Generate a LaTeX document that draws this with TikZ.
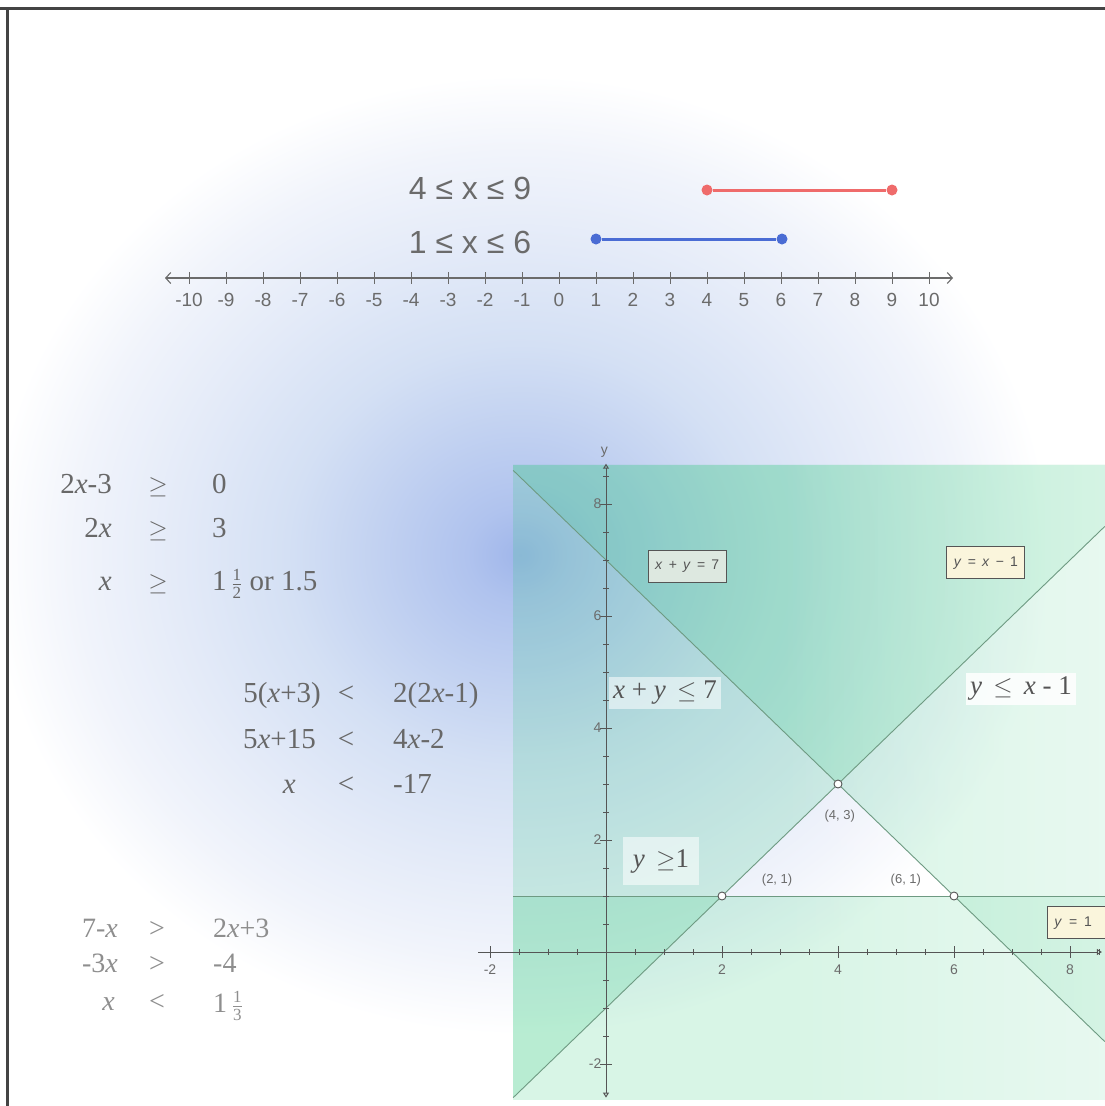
\documentclass[tikz,border=0pt]{standalone}
\usepackage{fontspec}
\setmainfont{Liberation Serif}
\setsansfont{Liberation Sans}
\usetikzlibrary{arrows.meta,fadings}

\definecolor{glowA}{HTML}{A0B6EA}
\definecolor{glowB}{HTML}{B0C3EE}
\definecolor{glowC}{HTML}{D4E0F4}
\definecolor{glowD}{HTML}{E3EAF8}
\definecolor{glowE}{HTML}{F1F4FB}
\definecolor{numgray}{HTML}{6B6B6B}
\definecolor{eqgray}{HTML}{686868}
\definecolor{eqlight}{HTML}{8E8E8E}
\definecolor{axisgray}{HTML}{555555}
\definecolor{segred}{HTML}{EF6B6B}
\definecolor{segblue}{HTML}{4A6CD4}
\definecolor{clinecol}{HTML}{6E9A82}
\definecolor{layergreen}{HTML}{28C878}
\definecolor{boxgreen}{HTML}{DDE8E0}
\definecolor{boxcream}{HTML}{FAF5DC}
\definecolor{framegray}{HTML}{444444}

% radial shading: 25bp corresponds to the edge of the shaded ellipse
\pgfdeclareradialshading{glow}{\pgfpoint{0bp}{0bp}}{color(0bp)=(glowA); color(2.5bp)=(glowB); color(11bp)=(glowC); color(16bp)=(glowD); color(21bp)=(glowE); color(25bp)=(white); color(50bp)=(white)}

\newcommand\myfrac[2]{$\frac{\mbox{\fontsize{17}{17}\selectfont #1}}{\mbox{\fontsize{17}{17}\selectfont #2}}$}

\begin{document}
\begin{tikzpicture}[x=1pt,y=-1pt,
  nline/.style={draw=numgray, line width=1.1pt},
  ntick/.style={draw=numgray, line width=1pt},
  nlab/.style={font=\sffamily\fontsize{19}{19}\selectfont, text=numgray, inner sep=0pt},
  biglab/.style={font=\sffamily\fontsize{32}{32}\selectfont, text=numgray, inner sep=0pt},
  reddot/.style={circle, fill=segred, inner sep=0pt, minimum size=11pt},
  bluedot/.style={circle, fill=segblue, inner sep=0pt, minimum size=11pt},
  eqL/.style={anchor=base east, inner sep=0pt, font=\fontsize{29}{29}\selectfont, text=eqgray},
  eqM/.style={anchor=base, inner sep=0pt, font=\fontsize{29}{29}\selectfont, text=eqgray},
  eqR/.style={anchor=base west, inner sep=0pt, font=\fontsize{29}{29}\selectfont, text=eqgray},
  eqLL/.style={eqL, text=eqlight, font=\fontsize{28}{28}\selectfont},
  eqML/.style={eqM, text=eqlight, font=\fontsize{28}{28}\selectfont},
  eqRL/.style={eqR, text=eqlight, font=\fontsize{28}{28}\selectfont},
  lg/.style={fill=layergreen, fill opacity=0.18},
  cline/.style={draw=clinecol, line width=0.9pt},
  axis/.style={draw=axisgray, line width=1pt},
  tlab/.style={font=\sffamily\fontsize{14}{14}\selectfont, text=numgray, inner sep=1pt},
  plab/.style={font=\sffamily\fontsize{13}{13}\selectfont, text=numgray, inner sep=0pt},
  opt/.style={circle, draw=axisgray, fill=white, line width=0.9pt, inner sep=0pt, minimum size=8pt},
  eqbox/.style={draw=axisgray, line width=1pt, font=\sffamily\fontsize{14}{14}\selectfont, text=axisgray, inner xsep=7pt, minimum height=32pt},
  slab/.style={fill=white, fill opacity=0.55, text opacity=1, text=axisgray, font=\fontsize{27}{27}\selectfont, inner sep=4pt}
]
\useasboundingbox (0,0) rectangle (1105,1106);
\fill[white] (0,0) rectangle (1105,1106);
\path[shading=glow] (520,555) ellipse [x radius=530pt, y radius=480pt];

% ---------- number line ----------
\coordinate (nlL) at (165,278);
\coordinate (nlR) at (953,278);
\draw[nline, {Straight Barb[length=5pt,width=11pt]}-{Straight Barb[length=5pt,width=11pt]}] (nlL) -- (nlR);
\foreach \i in {-10,...,10} {
  \draw[ntick] ({559+37*\i},272) -- ({559+37*\i},284);
  \node[nlab] (n\i) at ({559+37*\i},300) {\i};
}
\node[biglab] (ineqA) at (470,188) {4 ≤ x ≤ 9};
\node[biglab] (ineqB) at (470,242) {1 ≤ x ≤ 6};
\node[reddot] (r4) at (707,190) {};
\node[reddot] (r9) at (892,190) {};
\node[bluedot] (b1) at (596,239) {};
\node[bluedot] (b6) at (782,239) {};
\draw[segred, line width=3pt] (r4) -- (r9);
\draw[segblue, line width=3pt] (b1) -- (b6);

% ---------- equations block 1 ----------
\node[eqL] (e1l1) at (112,493) {2\textit{x}-3};
\node[eqM] (e1m1) at (158,493) {$\geq$};
\node[eqR] (e1r1) at (212,493) {0};
\node[eqL] (e1l2) at (112,537) {2\textit{x}};
\node[eqM] (e1m2) at (158,537) {$\geq$};
\node[eqR] (e1r2) at (212,537) {3};
\node[eqL] (e1l3) at (112,590) {\textit{x}};
\node[eqM] (e1m3) at (158,590) {$\geq$};
\node[eqR] (e1r3) at (212,590) {1\,\myfrac{1}{2} or 1.5};

% ---------- equations block 2 ----------
\node[eqL] (e2l1) at (321,702) {5(\textit{x}+3)};
\node[eqM] (e2m1) at (346,702) {<};
\node[eqR] (e2r1) at (393,702) {2(2\textit{x}-1)};
\node[eqL] (e2l2) at (316,748) {5\textit{x}+15};
\node[eqM] (e2m2) at (346,748) {<};
\node[eqR] (e2r2) at (393,748) {4\textit{x}-2};
\node[eqL] (e2l3) at (296,793) {\textit{x}};
\node[eqM] (e2m3) at (346,793) {<};
\node[eqR] (e2r3) at (393,793) {-17};

% ---------- equations block 3 ----------
\node[eqLL] (e3l1) at (118,937) {7-\textit{x}};
\node[eqML] (e3m1) at (157,937) {>};
\node[eqRL] (e3r1) at (213,937) {2\textit{x}+3};
\node[eqLL] (e3l2) at (118,972) {-3\textit{x}};
\node[eqML] (e3m2) at (157,972) {>};
\node[eqRL] (e3r2) at (213,972) {-4};
\node[eqLL] (e3l3) at (115,1010) {\textit{x}};
\node[eqML] (e3m3) at (157,1010) {<};
\node[eqRL] (e3r3) at (213,1012) {1\,\myfrac{1}{3}};

% ---------- graph ----------
\begin{scope}[shift={(606,952)}, x=58pt, y=56pt]
  \begin{scope}
    \clip (-1.6,-2.65) rectangle (8.6,8.7);
    \fill[lg] (-1.6,8.6) -- (8.6,-1.6) -- (8.6,8.7) -- (-1.6,8.7) -- cycle;
    \fill[lg] (-1.6,-2.6) -- (8.6,7.6) -- (8.6,8.7) -- (-1.6,8.7) -- cycle;
    \fill[lg] (-1.6,-2.65) rectangle (8.6,1);
    \fill[white, fill opacity=0.45, path fading=west] (3,-2.65) rectangle (9.2,8.7);
  \end{scope}
  % constraint lines
  \coordinate (a1) at (-1.6,8.6);  \coordinate (a2) at (8.6,-1.6);
  \coordinate (b1) at (-1.6,-2.6); \coordinate (b2) at (8.6,7.6);
  \coordinate (c1) at (-1.6,1);    \coordinate (c2) at (8.6,1);
  \draw[cline] (a1) -- (a2);
  \draw[cline] (b1) -- (b2);
  \draw[cline] (c1) -- (c2);
  % axes
  \coordinate (xl) at (-2.2,0); \coordinate (xr) at (8.55,0);
  \coordinate (yb) at (0,-2.6); \coordinate (yt) at (0,8.72);
  \draw[axis, -{Triangle[open,length=5pt,width=6pt]}] (xl) -- (xr);
  \draw[axis, {Triangle[open,length=5pt,width=6pt]}-{Triangle[open,length=5pt,width=6pt]}] (yb) -- (yt);
  \foreach \t in {-1.5,-1,...,8.5} {\draw[axis, line width=0.8pt] (\t,-0.05) -- (\t,0.05);}
  \foreach \t in {-2,-1.5,...,8.5} {\draw[axis, line width=0.8pt] (-0.05,\t) -- (0.05,\t);}
  \foreach \t in {-2,2,4,6,8} {
    \draw[axis, line width=0.8pt] (\t,-0.1) -- (\t,0.1);
    \draw[axis, line width=0.8pt] (-0.1,\t) -- (0.1,\t);
    \node[tlab] (xt\t) at (\t,-0.32) {\t};
    \node[tlab, anchor=east] (yt\t) at (-0.06,\t) {\t};
  }
  \node[tlab] (ylab) at (-0.03,8.93) {y};
  % vertices
  \node[opt] (p21) at (2,1) {};
  \node[opt] (p43) at (4,3) {};
  \node[opt] (p61) at (6,1) {};
  \node[plab] (l43) at (4.03,2.43) {(4, 3)};
  \node[plab] (l21) at (2.95,1.29) {(2, 1)};
  \node[plab] (l61) at (5.17,1.29) {(6, 1)};
  % line labels
  \node[eqbox, fill=boxgreen] (bx1) at (1.40,6.89) {\textit{x} \,+\, \textit{y} \,=\, 7};
  \node[eqbox, fill=boxcream] (bx2) at (6.55,6.95) {\textit{y} \,=\, \textit{x} \,−\, 1};
  \node[eqbox, fill=boxcream, anchor=west, text width=56pt, align=left] (bx3) at (7.6,0.52) {\textit{y} \,=\, 1};
  % region labels
  \node[slab] (s1) at (1.017,4.625) {\textit{x} + \textit{y} \,$\leq$ 7};
  \node[slab, fill opacity=0.85] (s2) at (7.155,4.70) {\textit{y} \,$\leq$\, \textit{x} - 1};
  \node[slab, inner ysep=12pt, inner xsep=10pt] (s3) at (0.948,1.625) {\textit{y} \,$\geq$1};
\end{scope}

% frame
\draw[framegray, line width=3pt] (0,8) -- (1105,8);
\draw[framegray, line width=3pt] (7,8) -- (7,1106);
\end{tikzpicture}
\end{document}
